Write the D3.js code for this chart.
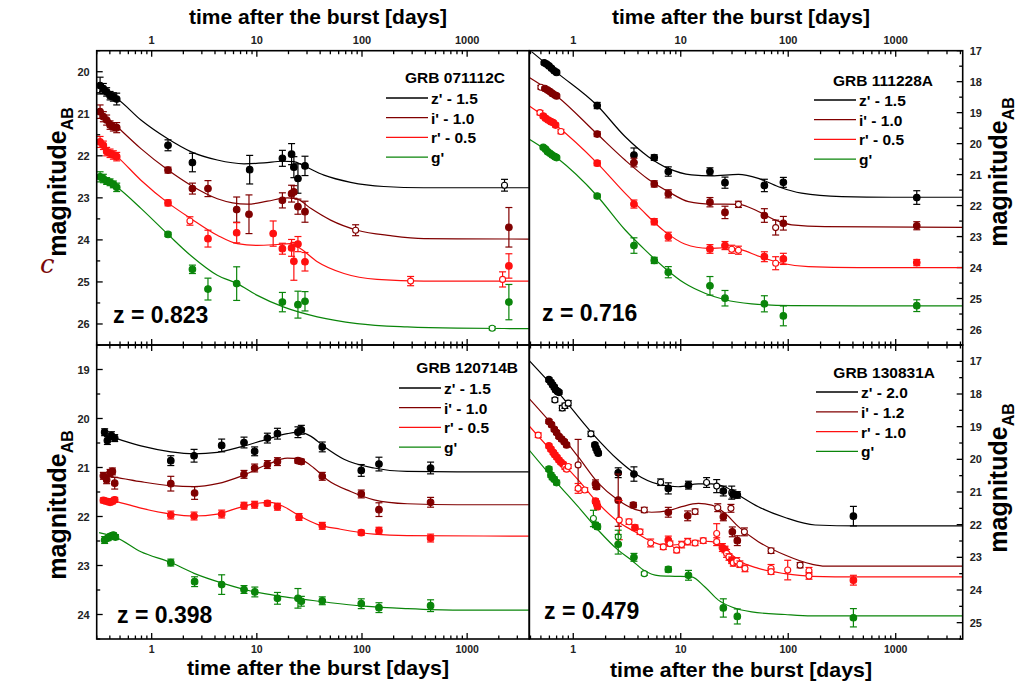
<!DOCTYPE html>
<html>
<head>
<meta charset="utf-8">
<script src="https://cdnjs.cloudflare.com/ajax/libs/d3/7.8.5/d3.min.js"></script>
<style>
  body { margin: 0; background: #fff; }
  svg { display: block; font-family: "Liberation Sans", Arial, sans-serif; }
</style>
</head>
<body>
<svg id="chart" width="1019" height="684"></svg>
<script>
// points: [days, magnitude, error, open marker (1) or filled (0)]
// fits:   [days, magnitude]

// ---- GRB 071112C ----
const a_z_pts = [[0.323,20.33,0.2,0],[0.347,20.40,0.12,0],[0.373,20.48,0.1,0],[0.402,20.57,0.1,0],[0.432,20.60,0.1,0],[0.465,20.65,0.14,0],
  [1.43,21.75,0.13,0],[2.44,22.16,0.22,0],[8.55,22.33,0.34,0],[17.5,22.06,0.19,0],[21.4,21.96,0.25,0],[22.5,22.27,0.25,0],[24.6,22.54,0.35,0],[28.7,22.24,0.23,0],[2267,22.70,0.14,1]];
const a_z_fit = [[0.316,20.46],[0.47,20.65],[0.79,21.15],[1.41,21.59],[2.35,21.90],[4.21,22.10],[7.55,22.19],[11.7,22.17],[17.5,22.13],[22.5,22.14],[28.1,22.24],[43.5,22.46],[78,22.63],[161,22.73],[388,22.76],[3860,22.76]];
const a_i_pts = [[0.323,20.95,0.16,0],[0.347,21.07,0.12,0],[0.373,21.15,0.12,0],[0.402,21.27,0.1,0],[0.432,21.31,0.1,0],[0.465,21.33,0.12,0],
  [1.43,22.34,0.07,0],[2.44,22.78,0.13,0],[3.43,22.78,0.19,0],[6.43,23.28,0.3,0],[8.42,23.39,0.46,0],[17.5,23.06,0.18,0],[21.4,22.90,0.2,0],[22.5,22.86,0.15,0],[24.6,23.21,0.18,0],[28.7,23.33,0.25,0],[87,23.77,0.13,1],[2494,23.70,0.47,0]];
const a_i_fit = [[0.316,20.91],[0.47,21.31],[0.79,21.83],[1.43,22.34],[2.35,22.70],[4.21,23.02],[8.12,23.15],[12.6,23.08],[19.5,23.0],[24.3,23.03],[32.5,23.25],[50.3,23.53],[90,23.77],[187,23.90],[388,23.97],[3860,23.98]];
const a_r_pts = [[0.323,21.67,0.13,0],[0.347,21.75,0.1,0],[0.373,21.90,0.1,0],[0.402,21.94,0.1,0],[0.432,21.98,0.1,0],[0.465,22.02,0.1,0],
  [1.43,23.12,0.07,0],[2.31,23.55,0.1,1],[3.43,23.97,0.2,0],[6.43,23.83,0.24,0],[14.3,23.85,0.3,0],[17.5,24.21,0.13,0],[21.4,24.19,0.2,0],[22.5,24.51,0.45,0],[24.6,24.10,0.18,0],[28.7,24.52,0.22,0],[290,24.98,0.11,1],[2172,24.94,0.18,1],[2494,24.62,0.29,0]];
const a_r_fit = [[0.316,21.67],[0.47,22.02],[0.79,22.58],[1.43,23.12],[2.35,23.49],[4.21,23.89],[6.52,24.09],[10.1,24.13],[15.6,24.11],[21.0,24.09],[26.1,24.21],[37.6,24.52],[67.4,24.80],[139,24.94],[388,24.98],[3860,24.98]];
const a_g_pts = [[0.323,22.50,0.12,0],[0.347,22.54,0.1,0],[0.373,22.60,0.08,0],[0.402,22.63,0.08,0],[0.432,22.68,0.08,0],[0.465,22.75,0.1,0],
  [1.43,23.87,0.05,0],[2.44,24.70,0.1,0],[3.43,25.17,0.26,0],[6.43,25.04,0.4,0],[17.5,25.48,0.23,0],[24.6,25.54,0.32,0],[28.7,25.46,0.23,0],[1730,26.10,0.04,1],[2494,25.48,0.42,0]];
const a_g_fit = [[0.316,22.46],[0.47,22.75],[0.79,23.25],[1.43,23.87],[2.35,24.37],[4.21,24.84],[6.52,25.04],[10.1,25.32],[18.1,25.60],[37.6,25.83],[90,25.99],[269,26.07],[805,26.10],[3860,26.11]];

// ---- GRB 111228A ----
const b_z_pts = [[0.537,17.39,0.05,0],[0.565,17.43,0.05,0],[0.594,17.49,0.05,0],[0.628,17.57,0.05,0],[0.665,17.65,0.05,0],[0.70,17.70,0.05,0],
  [1.67,18.77,0.1,0],[3.67,20.37,0.23,0],[5.67,20.45,0.09,0],[7.66,20.90,0.15,0],[18.7,20.90,0.12,0],[25.8,21.26,0.18,0],[60,21.35,0.2,0],[90.1,21.25,0.16,0],[1570,21.74,0.22,0]];
const b_z_fit = [[0.409,17.03],[0.70,17.70],[1.67,18.77],[3.03,19.77],[4.99,20.42],[7.66,20.80],[12.6,21.01],[19.4,21.04],[34.4,20.99],[52.7,21.12],[81,21.39],[133,21.60],[315,21.71],[918,21.73],[4150,21.73]];
const b_i_pts = [[0.50,18.18,0.06,1],[0.545,18.22,0.05,0],[0.577,18.27,0.05,0],[0.607,18.32,0.05,0],[0.638,18.38,0.05,0],[0.675,18.43,0.05,0],[0.70,18.46,0.05,0],
  [1.67,19.69,0.08,0],[3.67,20.61,0.14,0],[5.67,21.30,0.1,0],[7.66,21.62,0.13,0],[18.7,21.89,0.15,0],[25.8,22.22,0.2,0],[34.4,21.96,0.1,1],[60,22.32,0.22,0],[76.4,22.71,0.24,1],[90.1,22.57,0.22,0],[1570,22.65,0.13,0]];
const b_i_fit = [[0.387,17.86],[0.70,18.46],[1.67,19.69],[3.03,20.53],[4.99,21.15],[7.66,21.55],[11.8,21.87],[19.4,21.95],[34.4,21.96],[52.7,22.19],[75.4,22.46],[108,22.62],[220,22.68],[4150,22.70]];
const b_r_pts = [[0.49,19.0,0.07,1],[0.526,19.11,0.06,0],[0.553,19.18,0.06,0],[0.585,19.24,0.06,0],[0.62,19.29,0.06,0],[0.65,19.32,0.06,0],[0.685,19.40,0.06,0],[0.768,19.61,0.07,1],
  [1.67,20.63,0.08,0],[3.67,21.95,0.13,0],[5.67,22.52,0.1,0],[7.66,23.0,0.14,0],[18.7,23.40,0.14,0],[25.8,23.29,0.13,0],[29.8,23.41,0.13,1],[34.4,23.44,0.13,1],[60,23.65,0.16,0],[76.4,23.86,0.21,1],[90.1,23.72,0.18,0],[1570,23.84,0.1,0]];
const b_r_fit = [[0.387,18.78],[0.685,19.40],[1.67,20.63],[3.03,21.60],[4.33,22.14],[7.13,22.84],[10.9,23.24],[18.1,23.38],[25.8,23.36],[36.9,23.43],[52.7,23.63],[87,23.86],[154,23.97],[450,24.0],[4150,24.0]];
const b_g_pts = [[0.526,20.12,0.05,0],[0.553,20.18,0.05,0],[0.577,20.26,0.05,0],[0.607,20.31,0.05,0],[0.638,20.37,0.05,0],[0.675,20.42,0.05,0],[0.70,20.45,0.05,0],
  [1.67,21.69,0.06,0],[3.67,23.29,0.25,0],[5.67,23.77,0.1,0],[7.66,24.15,0.18,0],[18.7,24.59,0.3,0],[25.8,24.99,0.25,0],[60,25.17,0.26,0],[90.1,25.56,0.32,0],[1570,25.23,0.19,0]];
const b_g_fit = [[0.387,19.85],[0.70,20.45],[1.67,21.69],[3.03,22.78],[4.65,23.43],[7.13,24.02],[10.9,24.51],[16.8,24.83],[25.8,25.04],[45.7,25.17],[108,25.23],[450,25.24],[4150,25.24]];

// ---- GRB 120714B ----
const c_z_pts = [[0.357,20.28,0.07,0],[0.379,20.45,0.08,0],[0.414,20.35,0.08,0],[0.445,20.40,0.07,0],[1.52,20.86,0.1,0],[2.53,20.76,0.13,0],[4.63,20.55,0.13,0],[7.55,20.49,0.11,0],[9.53,20.67,0.09,0],
  [12.6,20.40,0.1,0],[15.7,20.31,0.11,0],[24.6,20.28,0.11,0],[26.5,20.23,0.09,0],[41.9,20.58,0.1,0],[98.4,21.06,0.12,0],[145,20.93,0.14,0],[449,21.01,0.12,0]];
const c_z_fit = [[0.34,20.33],[0.445,20.40],[0.79,20.56],[1.52,20.68],[2.53,20.72],[4.21,20.69],[7.02,20.58],[12.6,20.42],[19.5,20.31],[25.2,20.28],[32.5,20.36],[43.5,20.57],[67.4,20.83],[130,21.01],[269,21.08],[805,21.09],[3860,21.09]];
const c_i_pts = [[0.347,21.17,0.07,0],[0.373,21.25,0.08,0],[0.402,21.11,0.07,0],[0.423,21.08,0.07,0],[0.445,21.32,0.12,0],[1.52,21.33,0.15,0],[2.56,21.52,0.13,0],[7.55,21.14,0.08,0],[9.53,21.01,0.08,0],
  [12.6,20.94,0.08,0],[15.7,20.88,0.08,0],[24.6,20.86,0.05,0],[26.5,20.88,0.05,0],[41.9,21.18,0.08,0],[98.4,21.54,0.08,0],[145,21.86,0.14,0],[449,21.71,0.1,0]];
const c_i_fit = [[0.34,21.18],[0.445,21.20],[0.79,21.29],[1.52,21.37],[2.53,21.39],[4.21,21.33],[7.02,21.18],[12.6,20.94],[19.5,20.81],[26.1,20.84],[34.9,21.01],[46.7,21.25],[78,21.49],[130,21.66],[269,21.74],[805,21.76],[3860,21.76]];
const c_r_pts = [[0.347,21.67,0.05,0],[0.373,21.69,0.05,0],[0.402,21.71,0.05,0],[0.423,21.69,0.05,0],[0.445,21.66,0.05,0],[1.52,21.97,0.08,0],[2.53,21.99,0.08,0],[4.63,21.95,0.08,0],[7.55,21.78,0.07,0],
  [9.53,21.76,0.07,0],[12.6,21.73,0.05,0],[15.7,21.80,0.07,0],[25.2,22.01,0.07,0],[41.9,22.19,0.07,0],[98.4,22.33,0.05,0],[145,22.29,0.07,0],[449,22.44,0.08,0]];
const c_r_fit = [[0.34,21.66],[0.445,21.69],[0.79,21.83],[1.52,21.95],[2.53,21.99],[4.21,21.95],[6.52,21.83],[10.1,21.73],[13.5,21.71],[18.1,21.80],[26.1,22.0],[37.6,22.16],[62.6,22.26],[130,22.36],[269,22.39],[3860,22.40]];
const c_g_pts = [[0.357,22.48,0.07,0],[0.385,22.44,0.05,0],[0.408,22.40,0.05,0],[0.432,22.38,0.05,0],[0.452,22.42,0.05,0],[1.52,22.94,0.07,0],[2.56,23.33,0.1,0],[4.63,23.39,0.2,0],[7.55,23.49,0.08,0],
  [9.57,23.54,0.1,0],[15.7,23.67,0.12,0],[24.6,23.67,0.2,0],[26.5,23.73,0.1,0],[41.9,23.72,0.08,0],[98.4,23.78,0.1,0],[145,23.86,0.1,0],[449,23.82,0.12,0]];
const c_g_fit = [[0.316,22.33],[0.452,22.42],[0.79,22.72],[1.52,22.94],[2.53,23.16],[4.87,23.37],[8.73,23.52],[15.7,23.62],[28.1,23.69],[50.3,23.76],[104,23.83],[269,23.88],[805,23.91],[3860,23.91]];

// ---- GRB 130831A ----
const d_z_pts = [[0.594,17.56,0.06,0],[0.62,17.64,0.06,0],[0.642,17.72,0.06,0],[0.666,17.79,0.06,0],[0.685,17.87,0.06,0],[0.715,17.92,0.06,0],[0.736,17.95,0.06,0],
  [0.675,18.18,0.06,1],[0.79,18.43,0.08,1],[0.836,18.36,0.08,1],[0.898,18.28,0.08,1],[1.46,19.22,0.08,1],[1.59,19.56,0.06,0],[1.63,19.66,0.06,0],[1.67,19.74,0.06,0],[1.71,19.81,0.06,0],
  [2.62,20.41,0.15,0],[3.67,20.45,0.22,0],[6.5,20.70,0.1,1],[7.66,20.89,0.17,0],[11.8,20.79,0.12,0],[17.4,20.71,0.15,1],[21.6,20.82,0.2,1],[24.9,20.97,0.15,0],[29.8,21.02,0.2,1],[30.6,21.06,0.12,0],[33.6,21.09,0.1,0],[404,21.74,0.3,0]];
const d_z_fit = [[0.387,16.97],[0.725,17.95],[1.48,19.18],[2.62,20.02],[3.75,20.43],[6.18,20.76],[9.49,20.84],[14.6,20.75],[19.4,20.75],[25.8,20.84],[34.4,21.09],[52.7,21.45],[93.4,21.78],[178,22.01],[450,22.04],[4150,22.04]];
const d_i_pts = [[0.594,18.84,0.06,0],[0.628,18.94,0.06,0],[0.666,19.08,0.06,0],[0.70,19.18,0.06,0],[0.736,19.30,0.06,0],[0.779,19.38,0.06,0],[0.825,19.46,0.06,0],[0.867,19.56,0.06,0],
  [1.11,20.17,0.78,1],[1.61,20.75,0.12,0],[1.65,20.84,0.08,0],[2.62,21.25,0.8,0],[3.62,21.40,0.08,0],[4.58,21.55,0.08,1],[7.66,21.62,0.15,0],[11.6,21.73,0.15,0],[13.6,21.60,0.08,1],
  [22.1,21.48,0.12,1],[24.9,21.76,0.12,0],[29.3,21.50,0.12,1],[30.2,22.22,0.15,0],[33.6,22.49,0.15,0],[39.1,22.22,0.12,1],[69.2,22.80,0.08,1],[129,23.24,0.08,1]];
const d_i_fit = [[0.387,18.13],[0.725,19.15],[1.11,19.92],[1.71,20.73],[2.62,21.25],[3.75,21.53],[5.36,21.62],[7.66,21.57],[10.2,21.45],[14.6,21.35],[19.4,21.40],[25.8,21.65],[34.4,22.06],[52.7,22.52],[93.4,22.93],[165,23.21],[220,23.27],[4150,23.27]];
const d_r_pts = [[0.472,19.26,0.07,1],[0.594,19.59,0.06,0],[0.62,19.69,0.06,0],[0.651,19.79,0.06,0],[0.675,19.86,0.06,0],[0.705,19.94,0.06,0],[0.736,20.02,0.06,0],[0.768,20.09,0.06,0],[0.807,20.15,0.06,0],
  [0.836,20.24,0.06,1],[0.867,20.30,0.06,1],[0.898,20.22,0.06,1],[1.11,20.89,0.15,1],[1.28,20.94,0.07,1],[1.61,21.28,0.07,0],[1.65,21.35,0.07,0],[1.68,21.45,0.07,0],[2.68,21.86,0.6,1],
  [3.3,21.91,0.08,1],[3.75,22.09,0.08,0],[4.18,22.22,0.08,1],[5.25,22.56,0.12,1],[6.88,22.68,0.08,1],[7.66,22.47,0.12,0],[7.94,22.58,0.08,1],[9.16,22.78,0.08,1],[10.2,22.61,0.1,1],
  [11.6,22.52,0.1,1],[13.6,22.56,0.08,1],[16.2,22.49,0.08,1],[21.6,22.27,0.3,1],[21.6,22.52,0.12,1],[24.4,22.70,0.12,0],[25.8,22.76,0.1,0],[26.7,22.88,0.12,1],[28.1,22.99,0.1,1],
  [29.8,23.09,0.1,0],[30.8,23.17,0.1,1],[33.2,23.11,0.1,1],[35.5,23.21,0.1,1],[39.6,23.34,0.1,1],[69.2,23.34,0.12,1],[69.2,23.44,0.08,1],[98.9,23.39,0.3,1],[156,23.41,0.1,1],[156,23.57,0.1,1],[404,23.70,0.15,0]];
const d_r_fit = [[0.387,18.97],[0.725,19.97],[1.11,20.63],[1.71,21.35],[2.62,21.91],[3.75,22.22],[5.36,22.52],[7.13,22.63],[10.2,22.60],[14.6,22.50],[19.4,22.52],[25.8,22.73],[34.4,23.09],[52.7,23.34],[93.4,23.50],[165,23.58],[450,23.60],[4150,23.60]];
const d_g_pts = [[0.594,20.30,0.07,0],[0.62,20.48,0.07,0],[0.638,20.55,0.07,0],[0.666,20.61,0.07,0],[0.70,20.71,0.07,0],[1.54,21.81,0.25,1],[1.61,22.01,0.08,0],[1.68,22.06,0.08,0],
  [2.62,22.37,0.2,1],[2.62,22.60,0.3,0],[3.67,23.0,0.12,0],[4.58,23.50,0.05,1],[7.66,23.37,0.08,0],[11.8,23.55,0.15,0],[24.9,24.55,0.28,0],[33.6,24.81,0.23,0],[404,24.85,0.28,0]];
const d_g_fit = [[0.387,19.71],[0.70,20.71],[1.11,21.45],[1.71,22.17],[2.62,22.78],[3.49,23.09],[4.65,23.42],[6.18,23.56],[8.84,23.58],[12.6,23.60],[16.8,23.91],[22.4,24.31],[29.8,24.52],[45.7,24.67],[93.4,24.75],[165,24.79],[4150,24.79]];

const grbNames = ['GRB 071112C', 'GRB 111228A', 'GRB 120714B', 'GRB 130831A'];
const redshifts = ['z = 0.823', 'z = 0.716', 'z = 0.398', 'z = 0.479'];
const bandLabels = [
  ["z' - 1.5", "i' - 1.0", "r' - 0.5", "g'"],
  ["z' - 1.5", "i' - 1.0", "r' - 0.5", "g'"],
  ["z' - 1.5", "i' - 1.0", "r' - 0.5", "g'"],
  ["z' - 2.0", "i' - 1.2", "r' - 1.0", "g'"]
];
const timeDomains = [[0.3, 3900], [0.39, 4200], [0.3, 3900], [0.39, 4200]];
const magDomains = [[19.5, 26.5], [17, 26.5], [18.5, 24.5], [16.5, 25.5]];
const xTickLabels = ['1', '10', '100', '1000'];
const bandColors = ['#000000', '#800000', '#ff1010', '#0a850a'];

const pointSets = [
  [a_z_pts, a_i_pts, a_r_pts, a_g_pts],
  [b_z_pts, b_i_pts, b_r_pts, b_g_pts],
  [c_z_pts, c_i_pts, c_r_pts, c_g_pts],
  [d_z_pts, d_i_pts, d_r_pts, d_g_pts]
];
const fitSets = [
  [a_z_fit, a_i_fit, a_r_fit, a_g_fit],
  [b_z_fit, b_i_fit, b_r_fit, b_g_fit],
  [c_z_fit, c_i_fit, c_r_fit, c_g_fit],
  [d_z_fit, d_i_fit, d_r_fit, d_g_fit]
];

// layout
const boxes = [
  { x0: 96.7, x1: 529.3, y0: 50.7, y1: 345, side: 'left', top: true },
  { x0: 529.3, x1: 962.7, y0: 50.7, y1: 345, side: 'right', top: true },
  { x0: 96.7, x1: 529.3, y0: 345, y1: 639, side: 'left', top: false },
  { x0: 529.3, x1: 962.7, y0: 345, y1: 639, side: 'right', top: false }
];
// legend anchor: title right edge / baseline, line start, first row y, row step
const legends = [
  { titleX: 505, titleY: 82.5, lx: 386, ly: 98, step: 19.7 },
  { titleX: 933, titleY: 85.5, lx: 814, ly: 100, step: 19.7 },
  { titleX: 518, titleY: 372.5, lx: 399, ly: 388, step: 19.7 },
  { titleX: 935, titleY: 377.5, lx: 816, ly: 392, step: 19.8 }
];
const zLabelPos = [[113, 323], [542, 321], [117, 623], [544, 619]];
const magLabelY = [182, 172, 505, 478];

const svg = d3.select('#chart');

function drawPanel(k) {
  const b = boxes[k];
  const x = d3.scaleLog().domain(timeDomains[k]).range([b.x0, b.x1]);
  const y = d3.scaleLinear().domain(magDomains[k]).range([b.y0, b.y1]);
  const g = svg.append('g');

  g.append('clipPath').attr('id', 'clip' + k)
    .append('rect').attr('x', b.x0).attr('y', b.y0)
    .attr('width', b.x1 - b.x0).attr('height', b.y1 - b.y0);

  // x ticks (top and bottom edges, inward)
  const xt = x.ticks();
  xt.forEach(v => {
    const major = Math.abs(Math.log10(v) - Math.round(Math.log10(v))) < 1e-9;
    const len = major ? 6 : 3.5;
    g.append('line').attr('x1', x(v)).attr('x2', x(v)).attr('y1', b.y0).attr('y2', b.y0 + len)
      .attr('stroke', '#000').attr('stroke-width', 1.3);
    g.append('line').attr('x1', x(v)).attr('x2', x(v)).attr('y1', b.y1).attr('y2', b.y1 - len)
      .attr('stroke', '#000').attr('stroke-width', 1.3);
  });
  xTickLabels.forEach(s => {
    const v = +s;
    g.append('text').attr('x', x(v)).attr('y', b.top ? b.y0 - 7 : b.y1 + 14)
      .attr('text-anchor', 'middle').attr('font-size', b.top ? 11 : 10.5).attr('font-weight', 'bold')
      .attr('fill', '#222').text(s);
  });

  // y ticks on the outer side, pointing inward
  const [m0, m1] = magDomains[k];
  const yt = d3.range(Math.ceil(m0 * 2) / 2, m1 + 1e-9, 0.5);
  const ax = b.side === 'left' ? b.x0 : b.x1;
  const dir = b.side === 'left' ? 1 : -1;
  yt.forEach(v => {
    const major = Math.abs(v - Math.round(v)) < 1e-9;
    g.append('line').attr('x1', ax).attr('x2', ax + dir * (major ? 6 : 3.5))
      .attr('y1', y(v)).attr('y2', y(v)).attr('stroke', '#000').attr('stroke-width', 1.3);
    if (major) {
      g.append('text').attr('x', ax - dir * 7).attr('y', y(v) + 4)
        .attr('text-anchor', b.side === 'left' ? 'end' : 'start')
        .attr('font-size', 11).attr('font-weight', 'bold').attr('fill', '#222').text(v);
    }
  });

  // model curves
  const line = d3.line().x(d => x(d[0])).y(d => y(d[1])).curve(d3.curveMonotoneX);
  fitSets[k].forEach((fit, j) => {
    g.append('path').datum(fit).attr('d', line).attr('fill', 'none')
      .attr('stroke', bandColors[j]).attr('stroke-width', 1.2).attr('clip-path', `url(#clip${k})`);
  });

  // error bars and points
  pointSets[k].forEach((pts, j) => {
    const col = bandColors[j];
    pts.forEach(p => {
      const px = x(p[0]), ya = y(p[1] - p[2]), yb = y(p[1] + p[2]);
      g.append('line').attr('x1', px).attr('x2', px).attr('y1', ya).attr('y2', yb)
        .attr('stroke', col).attr('stroke-width', 1.2);
      [ya, yb].forEach(yy => g.append('line').attr('x1', px - 3.5).attr('x2', px + 3.5)
        .attr('y1', yy).attr('y2', yy).attr('stroke', col).attr('stroke-width', 1.2));
      g.append('circle').attr('cx', px).attr('cy', y(p[1])).attr('r', p[3] ? 3 : 3.3)
        .attr('fill', p[3] ? '#fff' : col).attr('stroke', col).attr('stroke-width', 1.1);
    });
  });

  // frame
  g.append('rect').attr('x', b.x0).attr('y', b.y0).attr('width', b.x1 - b.x0).attr('height', b.y1 - b.y0)
    .attr('fill', 'none').attr('stroke', '#000').attr('stroke-width', 1.6);

  // legend
  const L = legends[k];
  g.append('text').attr('x', L.titleX).attr('y', L.titleY).attr('text-anchor', 'end')
    .attr('font-size', 15.5).attr('font-weight', 'bold').text(grbNames[k]);
  bandLabels[k].forEach((s, j) => {
    const yy = L.ly + j * L.step;
    g.append('line').attr('x1', L.lx).attr('x2', L.lx + 42).attr('y1', yy).attr('y2', yy)
      .attr('stroke', bandColors[j]).attr('stroke-width', 1.3);
    g.append('text').attr('x', L.lx + 45).attr('y', yy + 6)
      .attr('font-size', 15.5).attr('font-weight', 'bold').text(s);
  });

  // redshift
  g.append('text').attr('x', zLabelPos[k][0]).attr('y', zLabelPos[k][1])
    .attr('font-size', 23).attr('font-weight', 'bold').text(redshifts[k]);

  // axis titles
  const cx = (b.x0 + b.x1) / 2 + (b.side === 'left' ? 5 : -5);
  if (b.top) {
    g.append('text').attr('x', cx).attr('y', 24).attr('text-anchor', 'middle')
      .attr('font-size', 21).attr('font-weight', 'bold').text('time after the burst [days]');
  } else {
    g.append('text').attr('x', cx).attr('y', b.side === 'left' ? 675 : 677).attr('text-anchor', 'middle')
      .attr('font-size', 21).attr('font-weight', 'bold')
      .attr('textLength', 262).attr('lengthAdjust', 'spacingAndGlyphs').text('time after the burst [days]');
  }
  const mx = b.side === 'left' ? 66 : 1007;
  const t = g.append('text').attr('transform', `translate(${mx},${magLabelY[k]}) rotate(-90)`)
    .attr('text-anchor', 'middle').attr('font-size', 25).attr('font-weight', 'bold');
  t.append('tspan').text('magnitude');
  t.append('tspan').attr('font-size', 16).attr('dy', 7).text('AB');
}

[0, 1, 2, 3].forEach(drawPanel);

// stray glyph left of the upper panel
svg.append('text').attr('x', 40).attr('y', 273).attr('font-family', 'DejaVu Serif')
  .attr('font-style', 'italic').attr('font-size', 26).attr('fill', '#7a0a0a').text('c');
</script>
</body>
</html>
